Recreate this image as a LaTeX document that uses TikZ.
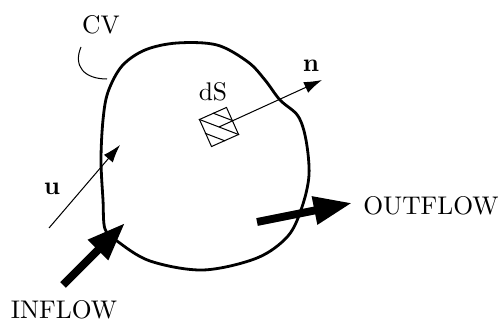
\documentclass[tikz,border=0pt]{standalone}
\usepackage{amsmath}
\usepackage{tikz}
\usetikzlibrary{arrows.meta,calc}

\begin{document}
\begin{tikzpicture}[x=0.392pt,y=-0.392pt,
  thin line/.style={line width=0.4pt},
  flow/.style={line width=3.1pt,-{Triangle[length=15pt,width=10.5pt]}},
  vec/.style={thin line,-{Latex[length=7pt,width=4.6pt]}},
  lbl/.style={inner sep=0pt}]
\useasboundingbox (0,0) rectangle (503,325);
% control volume
\draw[line width=1.1pt] plot[smooth cycle,tension=0.55] coordinates {
  (103,120) (108,92) (122,66) (145,50) (177,43) (217,45) (248,62)
  (265,80) (280,100) (298,116) (306,140) (309,175) (302,207)
  (288,236) (257,258) (203,270) (150,261) (117,241) (105,229)
  (103,200) (101,160)};
\node[lbl] (cv) at (101,25) {CV};
\coordinate (cvA) at (81,47);
\coordinate (cvB) at (107,79);
\draw[thin line] (cvA) .. controls (73,66) and (84,79) .. (cvB);
% surface element
\node[draw,thin line,rotate=24,minimum size=11.6pt,inner sep=0pt] (ds) at (219,127) {};
\draw[thin line] (ds.north west) -- (ds.south east);
\draw[thin line] ($(ds.north west)!0.5!(ds.north east)$) -- ($(ds.north east)!0.5!(ds.south east)$);
\draw[thin line] ($(ds.north west)!0.5!(ds.south west)$) -- ($(ds.south west)!0.5!(ds.south east)$);
\node[lbl] (dslbl) at (213,92) {dS};
\coordinate (ntip) at (322,80);
\draw[vec] (ds.center) -- (ntip);
\node[lbl] (n) at (311,66) {$\mathbf{n}$};
% velocity
\coordinate (ustart) at (49,228);
\coordinate (utip) at (120,145);
\draw[vec] (ustart) -- (utip);
\node[lbl] (u) at (52,189) {$\mathbf{u}$};
% inflow / outflow
\node[lbl] (in) at (64,310) {INFLOW};
\node[lbl] (out) at (431,206) {OUTFLOW};
\coordinate (inA) at (63,285);
\coordinate (inB) at (125,223);
\coordinate (outA) at (257,222);
\coordinate (outB) at (352,203);
\draw[flow] (inA) -- (inB);
\draw[flow] (outA) -- (outB);
\end{tikzpicture}
\end{document}
